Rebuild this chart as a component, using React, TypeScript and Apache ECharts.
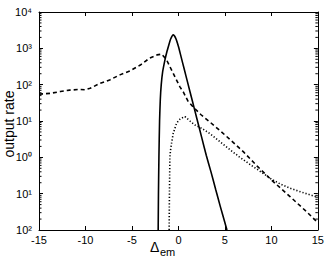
import React, { useEffect, useRef } from "react";
import * as echarts from "echarts";

const xTicks = [-15, -10, -5, 0, 5, 10, 15];
const yTickLabels: Record<string, string> = {
  "-2": "10²",
  "-1": "10¹",
  "0": "10⁰",
  "1": "10¹",
  "2": "10²",
  "3": "10³",
  "4": "10⁴",
};

const solidX = [-2.18, -2.15, -2.1, -2.03, -1.95, -1.85, -1.7, -1.45, -1.25, -1.05, -0.85, -0.56, -0.3, 0, 0.3, 0.6, 1.0, 1.5, 2.0, 2.5, 3.0, 3.5, 4.0, 4.5, 5.0, 5.22];
const solidY = [0.01, 0.1, 1, 10, 39.8, 100, 224, 479, 794, 1202, 1778, 2344, 1905, 1122, 562, 282, 112, 35.5, 11.2, 3.55, 1.12, 0.398, 0.132, 0.0447, 0.0158, 0.01];

const dashX = [-15, -13.8, -12.7, -11.7, -10.6, -10.05, -9.5, -8.4, -7.4, -6.3, -5.2, -4.1, -3.1, -2.3, -1.8, -1.27, -0.56, 0.16, 0.52, 1.0, 1.6, 2.4, 3.4, 4.5, 5.5, 7.0, 8.5, 10.2, 12.0, 13.8, 15];
const dashY = [55, 57.5, 64.6, 70.8, 74.1, 72.5, 79.4, 110, 135, 186, 240, 347, 537, 661, 692, 479, 204, 87, 63, 36.3, 24, 15.1, 9.3, 5.37, 3.16, 1.41, 0.562, 0.214, 0.0832, 0.0316, 0.0158];

const dotX = [-1.0, -0.98, -0.95, -0.92, -0.85, -0.74, -0.56, -0.2, 0.16, 0.5, 0.7, 1.24, 1.77, 2.5, 3.4, 5.0, 6.5, 8.0, 9.0, 10.0, 11.0, 12.0, 13.4, 15];
const dotY = [0.01, 0.05, 0.251, 1.05, 1.58, 2.45, 4.57, 8.71, 11.2, 12.6, 13.2, 10, 7.76, 6.31, 4.47, 2.09, 1.05, 0.562, 0.38, 0.251, 0.182, 0.141, 0.107, 0.0794];

const minorTicks: number[] = [];
for (let k = -2; k < 4; k++) {
  for (let m = 2; m <= 9; m++) minorTicks.push(m * Math.pow(10, k));
}

const FONT = "'Liberation Sans', Arial, Helvetica, sans-serif";

export default function App() {
  const ref = useRef<HTMLDivElement>(null);
  useEffect(() => {
    if (!ref.current) return;
    const chart = echarts.init(ref.current, null, { renderer: "svg" });
    const zip = (xs: number[], ys: number[]) => xs.map((x, i) => [x, ys[i]]);
    const axisLine = { show: true, lineStyle: { color: "#000", width: 1 } };
    chart.setOption({
      animation: false,
      backgroundColor: "#fff",
      grid: { left: 39, right: 9, top: 12, bottom: 30, containLabel: false },
      xAxis: [
        {
          type: "value",
          min: -15,
          max: 15,
          interval: 5,
          axisLine: { ...axisLine, onZero: false },
          axisTick: { show: true, inside: true, length: 4, lineStyle: { color: "#000" } },
          axisLabel: {
            show: true,
            color: "#000",
            fontSize: 11,
            fontFamily: FONT,
            margin: 4,
            formatter: (v: number) => (xTicks.includes(v) ? String(v) : ""),
          },
          splitLine: { show: false },
        },
        {
          type: "value",
          position: "top",
          min: -15,
          max: 15,
          interval: 5,
          axisLine: { ...axisLine, onZero: false },
          axisTick: { show: true, inside: true, length: 4, lineStyle: { color: "#000" } },
          axisLabel: { show: false },
          splitLine: { show: false },
        },
      ],
      yAxis: [
        {
          type: "log",
          logBase: 10,
          min: 0.01,
          max: 10000,
          axisLine: { ...axisLine, onZero: false },
          axisTick: { show: true, inside: true, length: 4, lineStyle: { color: "#000" } },
          axisLabel: {
            show: true,
            color: "#000",
            fontSize: 11,
            fontFamily: FONT,
            margin: 7,
            formatter: (v: number) => yTickLabels[String(Math.round(Math.log10(v)))] ?? "",
          },
          splitLine: { show: false },
        },
        {
          type: "log",
          logBase: 10,
          min: 0.01,
          max: 10000,
          position: "right",
          axisLine: { ...axisLine, onZero: false },
          axisTick: { show: true, inside: true, length: 4, lineStyle: { color: "#000" } },
          axisLabel: { show: false },
          splitLine: { show: false },
        },
      ],
      graphic: [
        {
          type: "text",
          x: 9,
          y: 124,
          rotation: Math.PI / 2,
          style: {
            text: "output rate",
            fontSize: 14,
            fontFamily: FONT,
            fill: "#000",
            align: "center",
            verticalAlign: "middle",
          },
        },
        {
          type: "text",
          x: 150,
          y: 240,
          style: { text: "Δ", fontSize: 14, fontFamily: FONT, fill: "#000" },
        },
        {
          type: "text",
          x: 160,
          y: 246,
          style: { text: "em", fontSize: 11, fontFamily: FONT, fill: "#000" },
        },
      ],
      series: [
        {
          type: "custom",
          silent: true,
          xAxisIndex: 0,
          yAxisIndex: 0,
          data: minorTicks.map((v) => [-15, v]),
          renderItem: (_params: any, api: any) => {
            const y = api.value(1);
            const l = api.coord([-15, y]);
            const r = api.coord([15, y]);
            return {
              type: "group",
              children: [
                { type: "line", shape: { x1: l[0], y1: l[1], x2: l[0] + 2.5, y2: l[1] }, style: { stroke: "#000", lineWidth: 1 } },
                { type: "line", shape: { x1: r[0] - 2.5, y1: r[1], x2: r[0], y2: r[1] }, style: { stroke: "#000", lineWidth: 1 } },
              ],
            };
          },
        },
        {
          type: "line",
          data: zip(dashX, dashY),
          showSymbol: false,
          symbol: "none",
          lineStyle: { color: "#000", width: 1.6, type: [4, 3] },
        },
        {
          type: "line",
          data: zip(dotX, dotY),
          showSymbol: false,
          symbol: "none",
          lineStyle: { color: "#000", width: 1.6, type: [1.2, 2] },
        },
        {
          type: "line",
          data: zip(solidX, solidY),
          showSymbol: false,
          symbol: "none",
          smooth: 0.2,
          lineStyle: { color: "#000", width: 1.6 },
        },
      ],
    });
    return () => chart.dispose();
  }, []);
  return (
    <div
      ref={ref}
      style={{ position: "fixed", left: 0, top: 0, width: 327, height: 260 }}
    />
  );
}
